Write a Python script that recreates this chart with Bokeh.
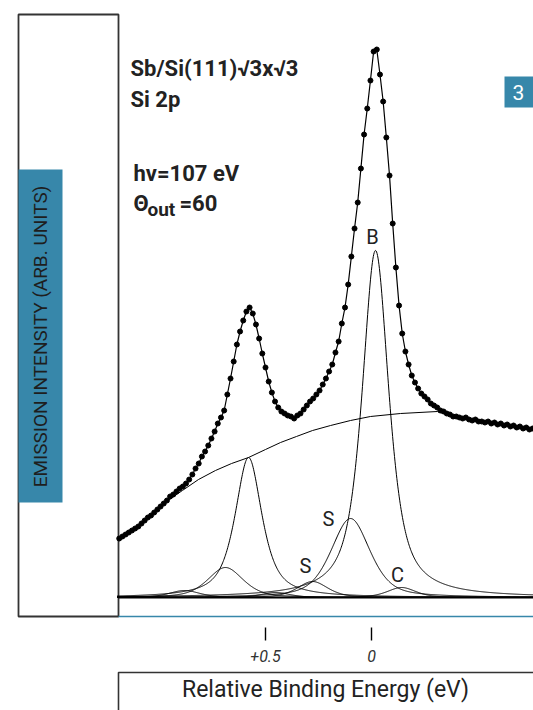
import numpy as np
from bokeh.plotting import figure
from bokeh.models import Range1d, Label, LinearAxis, FixedTicker
from bokeh.embed import file_html
from bokeh.resources import INLINE

# ---------------- data ----------------
# relative binding energy (eV) of the measured points
energy = [1.190, 1.175, 1.160, 1.145, 1.130, 1.115, 1.100, 1.085, 1.070, 1.055,
          1.040, 1.025, 1.010, 0.995, 0.980, 0.965, 0.950, 0.935, 0.920, 0.905,
          0.890, 0.875, 0.860, 0.845, 0.830, 0.815, 0.800, 0.785, 0.770, 0.755,
          0.740, 0.725, 0.710, 0.695, 0.680, 0.665, 0.650, 0.635, 0.620, 0.605,
          0.590, 0.575, 0.560, 0.545, 0.530, 0.515, 0.500, 0.485, 0.470, 0.455,
          0.440, 0.425, 0.410, 0.395, 0.380, 0.365, 0.350, 0.335, 0.320, 0.305,
          0.290, 0.275, 0.260, 0.245, 0.230, 0.215, 0.200, 0.185, 0.170, 0.155,
          0.140, 0.125, 0.110, 0.095, 0.080, 0.065, 0.050, 0.035, 0.020, 0.005,
          -0.010, -0.025, -0.040, -0.055, -0.070, -0.085, -0.100, -0.115, -0.130, -0.145,
          -0.160, -0.175, -0.190, -0.205, -0.220, -0.235, -0.250, -0.265, -0.280, -0.295,
          -0.310, -0.325, -0.340, -0.355, -0.370, -0.385, -0.400, -0.415, -0.430, -0.445,
          -0.460, -0.475, -0.490, -0.505, -0.520, -0.535, -0.550, -0.565, -0.580, -0.595,
          -0.610, -0.625, -0.640, -0.655, -0.670, -0.685, -0.700, -0.715, -0.730, -0.745,
          -0.760]
# emission intensity (arb. units)
intensity = [59, 61, 63, 65, 67, 69, 71, 74, 77, 80,
             82, 85, 88, 91, 94, 97, 101, 103, 106, 109,
             111, 114, 118, 123, 129, 134, 141, 146, 152, 159,
             166, 174, 180, 187, 203, 219, 236, 253, 266, 277,
             286, 290, 284, 273, 259, 244, 230, 216, 205, 196,
             190, 186, 184, 182, 181, 179, 182, 184, 188, 192,
             196, 199, 203, 207, 213, 219, 226, 233, 245, 256,
             274, 290, 313, 341, 369, 395, 429, 463, 489, 517,
             546, 548, 523, 496, 460, 422, 374, 330, 292, 264,
             246, 233, 222, 215, 209, 204, 201, 198, 194, 192,
             190, 187, 186, 184, 183, 181, 181, 180, 179, 180,
             178, 177, 178, 176, 176, 175, 176, 174, 175, 173,
             174, 172, 173, 171, 172, 170, 171, 169, 170, 168,
             169]

# background curve
bg_energy = [1.193, 1.118, 1.042, 0.967, 0.892, 0.816, 0.736, 0.660, 0.580, 0.500,
             0.429, 0.354, 0.278, 0.193, 0.099, 0.005, -0.137, -0.311, -0.400, -0.467,
             -0.608, -0.764]
bg_intensity = [59, 69, 82, 96, 107, 118, 127, 134, 140, 148,
                155, 161, 167, 172, 177, 181, 184, 186, 181, 177,
                173, 167]

# fitted components (2p3/2 and 2p1/2 of B, S, S', C)
comp_name = ["B 2p3/2", "B 2p1/2", "S 2p3/2", "S 2p1/2",
             "S' 2p3/2", "S' 2p1/2", "C 2p3/2", "C 2p1/2"]
comp_center = [-0.019, 0.580, 0.099, 0.689, 0.278, 0.882, -0.142, 0.453]
comp_height = [347, 140, 79, 30, 16, 7, 10, 5]
comp_fwhm = [0.151, 0.151, 0.217, 0.198, 0.170, 0.170, 0.160, 0.160]
comp_eta = [0.75, 0.75, 0.5, 0.5, 0.5, 0.5, 0.5, 0.5]

tick_values = [0.5, 0.0]
tick_labels = ["+0.5", "0"]

title_lines = ["Sb/Si(111)\u221a3x\u221a3", "Si 2p", "hv=107 eV"]
peak_labels = ["B", "S", "S", "C"]

# ---------------- layout (page pixels) ----------------
W, H = 533, 710
OX, OY = 0, 0
PX_E0, PX_PER_EV, PX_I0 = 371.0, 212.0, 597.0


def ex(X):
    return (PX_E0 - X) / PX_PER_EV


def iy(Y):
    return PX_I0 - Y


BLUE = "#3787aa"
INK = "#222222"
FONT = "Roboto"

p = figure(width=W, height=H,
           x_range=Range1d(ex(OX), ex(OX + W)), y_range=Range1d(iy(OY + H), iy(OY)),
           output_backend="svg", toolbar_location=None, title=None,
           x_axis_type=None, y_axis_type=None, min_border=0,
           outline_line_color=None, background_fill_color="white",
           border_fill_color="white")

# frames and blue bars
p.quad(left=ex(18), right=ex(118), top=iy(14), bottom=iy(616),
       fill_color=None, line_color="#333333", line_width=1.8)
p.quad(left=ex(18), right=ex(62), top=iy(169), bottom=iy(502),
       fill_color=BLUE, line_color=None)
p.quad(left=ex(504), right=ex(540), top=iy(76), bottom=iy(107),
       fill_color=BLUE, line_color=None)
p.quad(left=ex(118), right=ex(560), top=iy(672), bottom=iy(760),
       fill_color=None, line_color="#333333", line_width=1.6)

e_left, e_right = ex(118), ex(540)
p.segment(x0=[e_left], y0=[0], x1=[e_right], y1=[0], line_color="black", line_width=2)
p.segment(x0=[e_left], y0=[iy(616)], x1=[e_right], y1=[iy(616)], line_color=BLUE, line_width=1.6)

# components
grid = np.linspace(max(energy) + 0.01, e_right, 900)
for c, h, w, eta in zip(comp_center, comp_height, comp_fwhm, comp_eta):
    u = (grid - c) / w
    y = h * (eta / (1 + 4 * u ** 2) + (1 - eta) * np.exp(-4 * np.log(2) * u ** 2))
    p.line(grid, y, line_color="black", line_width=1.0)

# background
p.line(bg_energy, bg_intensity, line_color="black", line_width=1.0)

# spectrum
p.line(energy, intensity, line_color="black", line_width=1.2)
p.scatter(energy, intensity, size=5, fill_color="black", line_color="black")

# energy axis (ticks only)
xax = LinearAxis(fixed_location=iy(627), ticker=FixedTicker(ticks=tick_values),
                 major_label_overrides={v: l for v, l in zip(tick_values, tick_labels)},
                 axis_line_color=None, major_tick_in=0, major_tick_out=13,
                 major_tick_line_width=1.4, major_tick_line_color="black",
                 minor_tick_line_color=None, major_label_standoff=9,
                 major_label_text_font=FONT, major_label_text_font_style="italic",
                 major_label_text_font_size="16px", major_label_text_color="#333333")
p.add_layout(xax, "below")


def lab(text, X, Y, size, align="left", baseline="alphabetic", style="bold",
        color=INK, angle=0):
    p.add_layout(Label(x=ex(X), y=iy(Y), text=text, text_font=FONT,
                       text_font_size=f"{size}px", text_font_style=style,
                       text_color=color, text_align=align, text_baseline=baseline,
                       angle=angle, angle_units="deg"))


lab(title_lines[0], 130, 68, 22)
lab(title_lines[1], 130, 99, 22)
lab(title_lines[2], 133, 173, 22)
lab("\u0398", 133, 203, 22)
lab("out", 147, 209, 19)
lab("=60", 179, 203, 22)

lab("3", 518, 92, 21, align="center", baseline="middle", style="normal", color="white")

lab("EMISSION INTENSITY (ARB. UNITS)", 40, 336, 19, align="center", baseline="middle",
    style="normal", color="#1e1e1e", angle=90)
lab("Relative Binding Energy (eV)", 325, 689, 23, align="center", baseline="middle",
    style="normal")

for t, (X, Y) in zip(peak_labels, [(372, 236), (328, 518), (305, 565), (397, 574)]):
    lab(t, X, Y, 20, align="center", baseline="middle", style="normal")

open("out.html", "w").write(file_html(p, INLINE))
